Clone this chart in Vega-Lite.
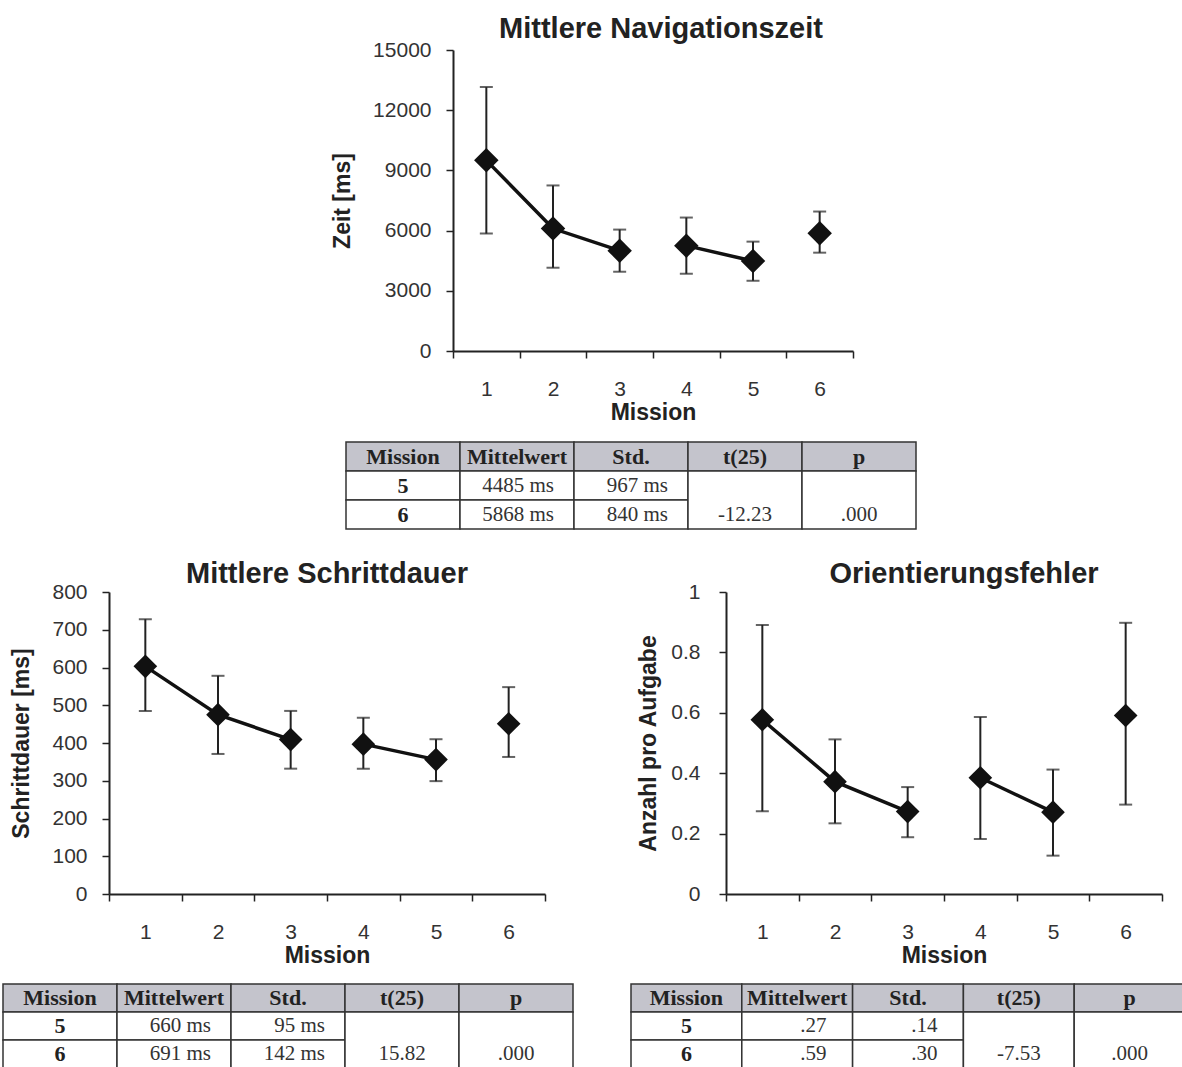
{
  "$schema": "https://vega.github.io/schema/vega-lite/v6.json",
  "padding": {"left": 0, "top": 15, "right": 0, "bottom": 0},
  "background": "white",
  "spacing": 0,
  "datasets": {
    "pts": [
      {"panel": "nav", "mission": 1, "mean": 9500, "lo": 5850, "hi": 13150, "seg": "a"},
      {"panel": "nav", "mission": 2, "mean": 6100, "lo": 4150, "hi": 8250, "seg": "a"},
      {"panel": "nav", "mission": 3, "mean": 5000, "lo": 3950, "hi": 6050, "seg": "a"},
      {"panel": "nav", "mission": 4, "mean": 5250, "lo": 3850, "hi": 6650, "seg": "b"},
      {"panel": "nav", "mission": 5, "mean": 4485, "lo": 3500, "hi": 5450, "seg": "b"},
      {"panel": "nav", "mission": 6, "mean": 5868, "lo": 4900, "hi": 6950, "seg": "c"},
      {"panel": "schritt", "mission": 1, "mean": 603, "lo": 485, "hi": 728, "seg": "a"},
      {"panel": "schritt", "mission": 2, "mean": 475, "lo": 371, "hi": 578, "seg": "a"},
      {"panel": "schritt", "mission": 3, "mean": 409, "lo": 332, "hi": 485, "seg": "a"},
      {"panel": "schritt", "mission": 4, "mean": 397, "lo": 332, "hi": 467, "seg": "b"},
      {"panel": "schritt", "mission": 5, "mean": 356, "lo": 299, "hi": 410, "seg": "b"},
      {"panel": "schritt", "mission": 6, "mean": 451, "lo": 363, "hi": 548, "seg": "c"},
      {"panel": "orient", "mission": 1, "mean": 0.577, "lo": 0.274, "hi": 0.891, "seg": "a"},
      {"panel": "orient", "mission": 2, "mean": 0.372, "lo": 0.234, "hi": 0.512, "seg": "a"},
      {"panel": "orient", "mission": 3, "mean": 0.273, "lo": 0.188, "hi": 0.354, "seg": "a"},
      {"panel": "orient", "mission": 4, "mean": 0.385, "lo": 0.182, "hi": 0.586, "seg": "b"},
      {"panel": "orient", "mission": 5, "mean": 0.271, "lo": 0.127, "hi": 0.412, "seg": "b"},
      {"panel": "orient", "mission": 6, "mean": 0.591, "lo": 0.296, "hi": 0.898, "seg": "c"}
    ],
    "tab": [
      {"tbl": "nav", "row": "Kopf", "col": "Mission", "label": "Mission"},
      {"tbl": "nav", "row": "Kopf", "col": "Mittelwert", "label": "Mittelwert"},
      {"tbl": "nav", "row": "Kopf", "col": "Std.", "label": "Std."},
      {"tbl": "nav", "row": "Kopf", "col": "t(25)", "label": "t(25)"},
      {"tbl": "nav", "row": "Kopf", "col": "p", "label": "p"},
      {"tbl": "nav", "row": "5", "col": "Mission", "label": "5"},
      {"tbl": "nav", "row": "5", "col": "Mittelwert", "label": "4485 ms"},
      {"tbl": "nav", "row": "5", "col": "Std.", "label": "967 ms"},
      {"tbl": "nav", "row": "5", "col": "t(25)", "label": ""},
      {"tbl": "nav", "row": "5", "col": "p", "label": ""},
      {"tbl": "nav", "row": "6", "col": "Mission", "label": "6"},
      {"tbl": "nav", "row": "6", "col": "Mittelwert", "label": "5868 ms"},
      {"tbl": "nav", "row": "6", "col": "Std.", "label": "840 ms"},
      {"tbl": "nav", "row": "6", "col": "t(25)", "label": "-12.23"},
      {"tbl": "nav", "row": "6", "col": "p", "label": ".000"},
      {"tbl": "schritt", "row": "Kopf", "col": "Mission", "label": "Mission"},
      {"tbl": "schritt", "row": "Kopf", "col": "Mittelwert", "label": "Mittelwert"},
      {"tbl": "schritt", "row": "Kopf", "col": "Std.", "label": "Std."},
      {"tbl": "schritt", "row": "Kopf", "col": "t(25)", "label": "t(25)"},
      {"tbl": "schritt", "row": "Kopf", "col": "p", "label": "p"},
      {"tbl": "schritt", "row": "5", "col": "Mission", "label": "5"},
      {"tbl": "schritt", "row": "5", "col": "Mittelwert", "label": "660 ms"},
      {"tbl": "schritt", "row": "5", "col": "Std.", "label": "95 ms"},
      {"tbl": "schritt", "row": "5", "col": "t(25)", "label": ""},
      {"tbl": "schritt", "row": "5", "col": "p", "label": ""},
      {"tbl": "schritt", "row": "6", "col": "Mission", "label": "6"},
      {"tbl": "schritt", "row": "6", "col": "Mittelwert", "label": "691 ms"},
      {"tbl": "schritt", "row": "6", "col": "Std.", "label": "142 ms"},
      {"tbl": "schritt", "row": "6", "col": "t(25)", "label": "15.82"},
      {"tbl": "schritt", "row": "6", "col": "p", "label": ".000"},
      {"tbl": "orient", "row": "Kopf", "col": "Mission", "label": "Mission"},
      {"tbl": "orient", "row": "Kopf", "col": "Mittelwert", "label": "Mittelwert"},
      {"tbl": "orient", "row": "Kopf", "col": "Std.", "label": "Std."},
      {"tbl": "orient", "row": "Kopf", "col": "t(25)", "label": "t(25)"},
      {"tbl": "orient", "row": "Kopf", "col": "p", "label": "p"},
      {"tbl": "orient", "row": "5", "col": "Mission", "label": "5"},
      {"tbl": "orient", "row": "5", "col": "Mittelwert", "label": ".27"},
      {"tbl": "orient", "row": "5", "col": "Std.", "label": ".14"},
      {"tbl": "orient", "row": "5", "col": "t(25)", "label": ""},
      {"tbl": "orient", "row": "5", "col": "p", "label": ""},
      {"tbl": "orient", "row": "6", "col": "Mission", "label": "6"},
      {"tbl": "orient", "row": "6", "col": "Mittelwert", "label": ".59"},
      {"tbl": "orient", "row": "6", "col": "Std.", "label": ".30"},
      {"tbl": "orient", "row": "6", "col": "t(25)", "label": "-7.53"},
      {"tbl": "orient", "row": "6", "col": "p", "label": ".000"}
    ]
  },
  "vconcat": [
    {
      "hconcat": [
        {"width": 331, "height": 1, "data": {"values": []}, "mark": "point", "encoding": {}},
        {
          "width": 400, "height": 301,
          "title": {"text": "Mittlere Navigationszeit", "dx": 8, "offset": -5},
          "data": {"name": "pts"},
          "transform": [{"filter": "datum.panel == 'nav'"}],
          "encoding": {
            "x": {"field": "mission", "type": "ordinal", "title": "Mission", "scale": {"paddingInner": 0, "paddingOuter": 0}}
          },
          "layer": [
            {"mark": {"type": "rule", "color": "#222", "strokeWidth": 2},
             "encoding": {"y": {"field": "lo", "type": "quantitative", "title": "Zeit [ms]", "scale": {"domain": [0, 15000], "nice": false}, "axis": {"values": [0, 3000, 6000, 9000, 12000, 15000], "format": "d", "titlePadding": 18, "labelOverlap": false}}, "y2": {"field": "hi"}}},
            {"mark": {"type": "tick", "orient": "horizontal", "size": 13, "thickness": 2, "color": "#222"}, "encoding": {"y": {"field": "lo", "type": "quantitative", "title": "Zeit [ms]", "axis": {"values": [0, 3000, 6000, 9000, 12000, 15000], "format": "d", "titlePadding": 18, "labelOverlap": false}}}},
            {"mark": {"type": "tick", "orient": "horizontal", "size": 13, "thickness": 2, "color": "#222"}, "encoding": {"y": {"field": "hi", "type": "quantitative", "title": "Zeit [ms]", "axis": {"values": [0, 3000, 6000, 9000, 12000, 15000], "format": "d", "titlePadding": 18, "labelOverlap": false}}}},
            {"mark": {"type": "line", "color": "#111", "strokeWidth": 3.5}, "encoding": {"y": {"field": "mean", "type": "quantitative", "title": "Zeit [ms]", "axis": {"values": [0, 3000, 6000, 9000, 12000, 15000], "format": "d", "titlePadding": 18, "labelOverlap": false}}, "detail": {"field": "seg"}}},
            {"mark": {"type": "point", "shape": "diamond", "filled": true, "size": 600, "color": "#111", "opacity": 1}, "encoding": {"y": {"field": "mean", "type": "quantitative", "title": "Zeit [ms]", "axis": {"values": [0, 3000, 6000, 9000, 12000, 15000], "format": "d", "titlePadding": 18, "labelOverlap": false}}}}
          ]
        }
      ]
    },
    {"width": 1, "height": 17, "data": {"values": []}, "mark": "point", "encoding": {}},
    {
      "hconcat": [
        {"width": 345, "height": 1, "data": {"values": []}, "mark": "point", "encoding": {}},
        {
          "width": 570, "height": 87,
          "data": {"name": "tab"},
          "transform": [{"filter": "datum.tbl == 'nav'"}],
          "encoding": {
            "x": {"field": "col", "type": "nominal", "sort": ["Mission", "Mittelwert", "Std.", "t(25)", "p"], "scale": {"paddingInner": 0, "paddingOuter": 0}, "axis": null},
            "y": {"field": "row", "type": "nominal", "sort": ["Kopf", "5", "6"], "scale": {"paddingInner": 0, "paddingOuter": 0}, "axis": null}
          },
          "layer": [
            {"transform": [{"filter": "datum.row == 'Kopf' || (datum.col != 't(25)' && datum.col != 'p')"}],
             "mark": {"type": "rect", "stroke": "#333", "strokeWidth": 1.5},
             "encoding": {"fill": {"field": "row", "type": "nominal", "scale": {"domain": ["Kopf", "5", "6"], "range": ["#c4c4cc", "#ffffff", "#ffffff"]}, "legend": null}}},
            {"transform": [{"filter": "datum.row == '5' && (datum.col == 't(25)' || datum.col == 'p')"}],
             "mark": {"type": "rect", "stroke": "#333", "strokeWidth": 1.5, "fill": "#ffffff"},
             "encoding": {"y": {"field": "row", "type": "nominal", "sort": ["Kopf", "5", "6"], "bandPosition": 0}, "y2": {"datum": "6", "bandPosition": 1}}},
            {"transform": [{"filter": "datum.row == 'Kopf' || datum.col == 'Mission'"}],
             "mark": {"type": "text", "font": "Liberation Serif", "fontSize": 22, "fontWeight": "bold", "color": "#222"},
             "encoding": {"text": {"field": "label"}}},
            {"transform": [{"filter": "datum.row != 'Kopf' && (datum.col == 'Mittelwert' || datum.col == 'Std.')"}],
             "mark": {"type": "text", "font": "Liberation Serif", "fontSize": 21, "color": "#333", "align": "right", "dx": -20},
             "encoding": {"x": {"field": "col", "type": "nominal", "sort": ["Mission", "Mittelwert", "Std.", "t(25)", "p"], "bandPosition": 1}, "text": {"field": "label"}}},
            {"transform": [{"filter": "datum.row == '6' && (datum.col == 't(25)' || datum.col == 'p')"}],
             "mark": {"type": "text", "font": "Liberation Serif", "fontSize": 21, "color": "#333"},
             "encoding": {"text": {"field": "label"}}}
          ]
        }
      ]
    },
    {"width": 1, "height": 30, "data": {"values": []}, "mark": "point", "encoding": {}},
    {
      "hconcat": [
        {"width": 10, "height": 1, "data": {"values": []}, "mark": "point", "encoding": {}},
        {
          "width": 436, "height": 302,
          "title": {"text": "Mittlere Schrittdauer", "dx": 0},
          "data": {"name": "pts"},
          "transform": [{"filter": "datum.panel == 'schritt'"}],
          "encoding": {
            "x": {"field": "mission", "type": "ordinal", "title": "Mission", "scale": {"paddingInner": 0, "paddingOuter": 0}}
          },
          "layer": [
            {"mark": {"type": "rule", "color": "#222", "strokeWidth": 2},
             "encoding": {"y": {"field": "lo", "type": "quantitative", "title": "Schrittdauer [ms]", "scale": {"domain": [0, 800], "nice": false}, "axis": {"values": [0, 100, 200, 300, 400, 500, 600, 700, 800], "format": "d", "titlePadding": 18, "labelOverlap": false}}, "y2": {"field": "hi"}}},
            {"mark": {"type": "tick", "orient": "horizontal", "size": 13, "thickness": 2, "color": "#222"}, "encoding": {"y": {"field": "lo", "type": "quantitative", "title": "Schrittdauer [ms]", "axis": {"values": [0, 100, 200, 300, 400, 500, 600, 700, 800], "format": "d", "titlePadding": 18, "labelOverlap": false}}}},
            {"mark": {"type": "tick", "orient": "horizontal", "size": 13, "thickness": 2, "color": "#222"}, "encoding": {"y": {"field": "hi", "type": "quantitative", "title": "Schrittdauer [ms]", "axis": {"values": [0, 100, 200, 300, 400, 500, 600, 700, 800], "format": "d", "titlePadding": 18, "labelOverlap": false}}}},
            {"mark": {"type": "line", "color": "#111", "strokeWidth": 3.5}, "encoding": {"y": {"field": "mean", "type": "quantitative", "title": "Schrittdauer [ms]", "axis": {"values": [0, 100, 200, 300, 400, 500, 600, 700, 800], "format": "d", "titlePadding": 18, "labelOverlap": false}}, "detail": {"field": "seg"}}},
            {"mark": {"type": "point", "shape": "diamond", "filled": true, "size": 560, "color": "#111", "opacity": 1}, "encoding": {"y": {"field": "mean", "type": "quantitative", "title": "Schrittdauer [ms]", "axis": {"values": [0, 100, 200, 300, 400, 500, 600, 700, 800], "format": "d", "titlePadding": 18, "labelOverlap": false}}}}
          ]
        },
        {"width": 91, "height": 1, "data": {"values": []}, "mark": "point", "encoding": {}},
        {
          "width": 436, "height": 302,
          "title": {"text": "Orientierungsfehler", "dx": 20},
          "data": {"name": "pts"},
          "transform": [{"filter": "datum.panel == 'orient'"}],
          "encoding": {
            "x": {"field": "mission", "type": "ordinal", "title": "Mission", "scale": {"paddingInner": 0, "paddingOuter": 0}}
          },
          "layer": [
            {"mark": {"type": "rule", "color": "#222", "strokeWidth": 2},
             "encoding": {"y": {"field": "lo", "type": "quantitative", "title": "Anzahl pro Aufgabe", "scale": {"domain": [0, 1], "nice": false}, "axis": {"values": [0, 0.2, 0.4, 0.6, 0.8, 1], "format": "~g", "titlePadding": 10, "labelPadding": 19, "labelOverlap": false}}, "y2": {"field": "hi"}}},
            {"mark": {"type": "tick", "orient": "horizontal", "size": 13, "thickness": 2, "color": "#222"}, "encoding": {"y": {"field": "lo", "type": "quantitative", "title": "Anzahl pro Aufgabe", "axis": {"values": [0, 0.2, 0.4, 0.6, 0.8, 1], "format": "~g", "titlePadding": 10, "labelPadding": 19, "labelOverlap": false}}}},
            {"mark": {"type": "tick", "orient": "horizontal", "size": 13, "thickness": 2, "color": "#222"}, "encoding": {"y": {"field": "hi", "type": "quantitative", "title": "Anzahl pro Aufgabe", "axis": {"values": [0, 0.2, 0.4, 0.6, 0.8, 1], "format": "~g", "titlePadding": 10, "labelPadding": 19, "labelOverlap": false}}}},
            {"mark": {"type": "line", "color": "#111", "strokeWidth": 3.5}, "encoding": {"y": {"field": "mean", "type": "quantitative", "title": "Anzahl pro Aufgabe", "axis": {"values": [0, 0.2, 0.4, 0.6, 0.8, 1], "format": "~g", "titlePadding": 10, "labelPadding": 19, "labelOverlap": false}}, "detail": {"field": "seg"}}},
            {"mark": {"type": "point", "shape": "diamond", "filled": true, "size": 560, "color": "#111", "opacity": 1}, "encoding": {"y": {"field": "mean", "type": "quantitative", "title": "Anzahl pro Aufgabe", "axis": {"values": [0, 0.2, 0.4, 0.6, 0.8, 1], "format": "~g", "titlePadding": 10, "labelPadding": 19, "labelOverlap": false}}}}
          ]
        }
      ]
    },
    {"width": 1, "height": 16, "data": {"values": []}, "mark": "point", "encoding": {}},
    {
      "hconcat": [
        {"width": 2, "height": 1, "data": {"values": []}, "mark": "point", "encoding": {}},
        {
          "width": 570, "height": 84,
          "data": {"name": "tab"},
          "transform": [{"filter": "datum.tbl == 'schritt'"}],
          "encoding": {
            "x": {"field": "col", "type": "nominal", "sort": ["Mission", "Mittelwert", "Std.", "t(25)", "p"], "scale": {"paddingInner": 0, "paddingOuter": 0}, "axis": null},
            "y": {"field": "row", "type": "nominal", "sort": ["Kopf", "5", "6"], "scale": {"paddingInner": 0, "paddingOuter": 0}, "axis": null}
          },
          "layer": [
            {"transform": [{"filter": "datum.row == 'Kopf' || (datum.col != 't(25)' && datum.col != 'p')"}],
             "mark": {"type": "rect", "stroke": "#333", "strokeWidth": 1.5},
             "encoding": {"fill": {"field": "row", "type": "nominal", "scale": {"domain": ["Kopf", "5", "6"], "range": ["#c4c4cc", "#ffffff", "#ffffff"]}, "legend": null}}},
            {"transform": [{"filter": "datum.row == '5' && (datum.col == 't(25)' || datum.col == 'p')"}],
             "mark": {"type": "rect", "stroke": "#333", "strokeWidth": 1.5, "fill": "#ffffff"},
             "encoding": {"y": {"field": "row", "type": "nominal", "sort": ["Kopf", "5", "6"], "bandPosition": 0}, "y2": {"datum": "6", "bandPosition": 1}}},
            {"transform": [{"filter": "datum.row == 'Kopf' || datum.col == 'Mission'"}],
             "mark": {"type": "text", "font": "Liberation Serif", "fontSize": 22, "fontWeight": "bold", "color": "#222"},
             "encoding": {"text": {"field": "label"}}},
            {"transform": [{"filter": "datum.row != 'Kopf' && (datum.col == 'Mittelwert' || datum.col == 'Std.')"}],
             "mark": {"type": "text", "font": "Liberation Serif", "fontSize": 21, "color": "#333", "align": "right", "dx": -20},
             "encoding": {"x": {"field": "col", "type": "nominal", "sort": ["Mission", "Mittelwert", "Std.", "t(25)", "p"], "bandPosition": 1}, "text": {"field": "label"}}},
            {"transform": [{"filter": "datum.row == '6' && (datum.col == 't(25)' || datum.col == 'p')"}],
             "mark": {"type": "text", "font": "Liberation Serif", "fontSize": 21, "color": "#333"},
             "encoding": {"text": {"field": "label"}}}
          ]
        },
        {"width": 56, "height": 1, "data": {"values": []}, "mark": "point", "encoding": {}},
        {
          "width": 554, "height": 84,
          "data": {"name": "tab"},
          "transform": [{"filter": "datum.tbl == 'orient'"}],
          "encoding": {
            "x": {"field": "col", "type": "nominal", "sort": ["Mission", "Mittelwert", "Std.", "t(25)", "p"], "scale": {"paddingInner": 0, "paddingOuter": 0}, "axis": null},
            "y": {"field": "row", "type": "nominal", "sort": ["Kopf", "5", "6"], "scale": {"paddingInner": 0, "paddingOuter": 0}, "axis": null}
          },
          "layer": [
            {"transform": [{"filter": "datum.row == 'Kopf' || (datum.col != 't(25)' && datum.col != 'p')"}],
             "mark": {"type": "rect", "stroke": "#333", "strokeWidth": 1.5},
             "encoding": {"fill": {"field": "row", "type": "nominal", "scale": {"domain": ["Kopf", "5", "6"], "range": ["#c4c4cc", "#ffffff", "#ffffff"]}, "legend": null}}},
            {"transform": [{"filter": "datum.row == '5' && (datum.col == 't(25)' || datum.col == 'p')"}],
             "mark": {"type": "rect", "stroke": "#333", "strokeWidth": 1.5, "fill": "#ffffff"},
             "encoding": {"y": {"field": "row", "type": "nominal", "sort": ["Kopf", "5", "6"], "bandPosition": 0}, "y2": {"datum": "6", "bandPosition": 1}}},
            {"transform": [{"filter": "datum.row == 'Kopf' || datum.col == 'Mission'"}],
             "mark": {"type": "text", "font": "Liberation Serif", "fontSize": 22, "fontWeight": "bold", "color": "#222"},
             "encoding": {"text": {"field": "label"}}},
            {"transform": [{"filter": "datum.row != 'Kopf' && (datum.col == 'Mittelwert' || datum.col == 'Std.')"}],
             "mark": {"type": "text", "font": "Liberation Serif", "fontSize": 21, "color": "#333", "align": "right", "dx": -26},
             "encoding": {"x": {"field": "col", "type": "nominal", "sort": ["Mission", "Mittelwert", "Std.", "t(25)", "p"], "bandPosition": 1}, "text": {"field": "label"}}},
            {"transform": [{"filter": "datum.row == '6' && (datum.col == 't(25)' || datum.col == 'p')"}],
             "mark": {"type": "text", "font": "Liberation Serif", "fontSize": 21, "color": "#333"},
             "encoding": {"text": {"field": "label"}}}
          ]
        }
      ]
    }
  ],
  "config": {
    "view": {"stroke": null},
    "concat": {"spacing": 0},
    "title": {"font": "Liberation Sans", "fontSize": 29, "fontWeight": "bold", "color": "#222", "anchor": "middle", "offset": -8},
    "axis": {
      "domainColor": "#222", "domainWidth": 2, "tickColor": "#222", "tickWidth": 1.5, "tickSize": 7,
      "labelFont": "Liberation Sans", "labelFontSize": 21, "labelColor": "#333", "labelPadding": 15, "labelOverlap": false,
      "titleFont": "Liberation Sans", "titleFontSize": 23, "titleFontWeight": "bold", "titleColor": "#222",
      "grid": false
    },
    "axisY": {"titlePadding": 18},
    "axisX": {"tickBand": "extent", "labelAngle": 0, "labelPadding": 20, "titlePadding": 2}
  }
}
